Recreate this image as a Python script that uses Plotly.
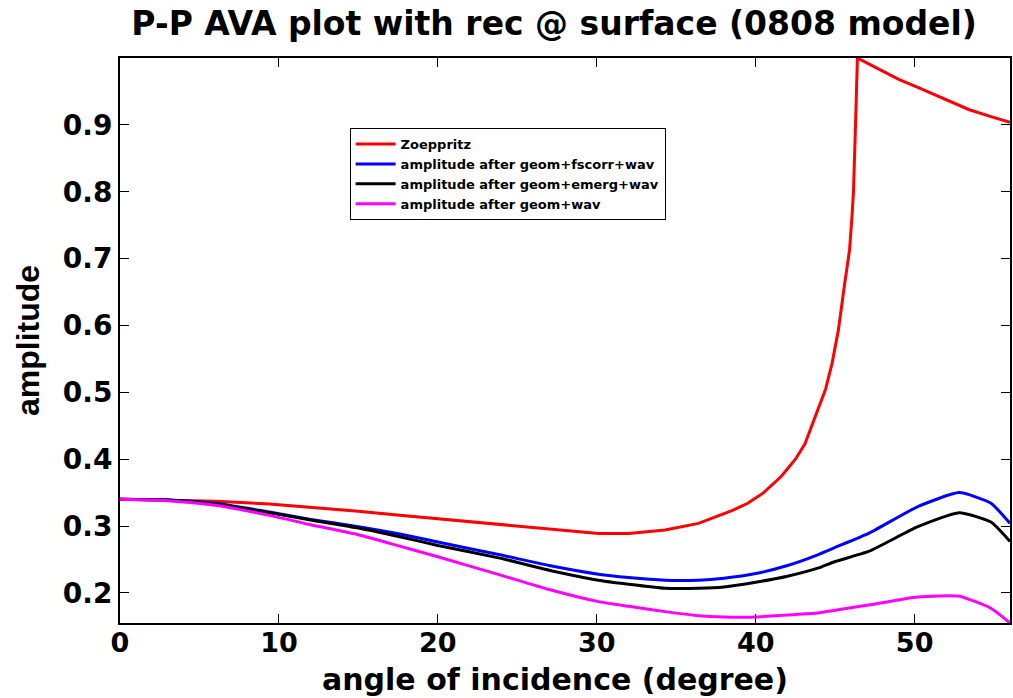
import plotly.graph_objects as go

# ---- data ----
red_x = [0, 3, 6, 9.4, 12, 15, 17.6, 20, 23.9, 27, 30.1, 32, 34.3, 36.4, 37.3, 38.5, 39.5,
         40.5, 41.6, 42.5, 43.1, 43.9, 44.4, 44.8, 45.2, 45.6, 45.9, 46.05, 46.15, 46.25,
         46.35, 46.4, 47.2, 48, 49, 50.2, 51.8, 53.4, 54.7, 56]
red_y = [0.340, 0.339, 0.337, 0.333, 0.328, 0.322, 0.316, 0.311, 0.303, 0.296, 0.289, 0.289,
         0.294, 0.304, 0.312, 0.323, 0.334, 0.350, 0.374, 0.400, 0.423, 0.473, 0.505, 0.543,
         0.593, 0.663, 0.712, 0.760, 0.800, 0.876, 0.940, 1.000, 0.990, 0.980, 0.968, 0.956,
         0.939, 0.923, 0.913, 0.904]

ang = [0, 3, 6, 9.4, 12, 15, 17.6, 20, 23.9, 27, 30.1, 32, 34.3, 36.4, 38, 40, 42, 43.9, 45,
       47.1, 50.2, 52.8, 54.8, 56]
blue_y = [0.340, 0.339, 0.334, 0.321, 0.310, 0.299, 0.288, 0.276, 0.257, 0.241, 0.228, 0.223,
          0.219, 0.219, 0.222, 0.229, 0.241, 0.257, 0.268, 0.289, 0.329, 0.350, 0.334, 0.304]
black_y = [0.340, 0.339, 0.333, 0.320, 0.309, 0.297, 0.284, 0.271, 0.252, 0.234, 0.219, 0.213,
           0.207, 0.207, 0.209, 0.216, 0.225, 0.237, 0.247, 0.262, 0.299, 0.320, 0.306, 0.277]
mag_y = [0.340, 0.338, 0.331, 0.316, 0.302, 0.287, 0.270, 0.254, 0.227, 0.205, 0.187, 0.180,
         0.172, 0.166, 0.164, 0.164, 0.167, 0.170, 0.174, 0.182, 0.194, 0.195, 0.177, 0.155]

names = ["Zoeppritz", "amplitude after geom+fscorr+wav",
         "amplitude after geom+emerg+wav", "amplitude after geom+wav"]
colors = ["#ff0000", "#0000ff", "#000000", "#ff00ff"]

x_ticks = [0, 10, 20, 30, 40, 50]
y_ticks = [0.2, 0.3, 0.4, 0.5, 0.6, 0.7, 0.8, 0.9]

WIDE = "DejaVu Sans"
NARROW = "Liberation Sans"

fig = go.Figure()
fig.add_trace(go.Scatter(x=red_x, y=red_y, mode="lines", name=names[0],
                         line=dict(color=colors[0], width=3)))
for yv, nm, c in zip([blue_y, black_y, mag_y], names[1:], colors[1:]):
    fig.add_trace(go.Scatter(x=ang, y=yv, mode="lines", name=nm,
                             line=dict(color=c, width=3, shape="spline", smoothing=0.5)))

axis_common = dict(showline=True, linecolor="black", linewidth=2, mirror="ticks",
                   ticks="inside", ticklen=9, tickwidth=1, tickcolor="black",
                   showgrid=False, zeroline=False)

fig.update_layout(
    width=1013, height=698,
    margin=dict(l=120, r=1, t=58, b=75),
    paper_bgcolor="white", plot_bgcolor="white",
    title=dict(text="P-P AVA plot with rec @ surface (0808 model)",
               font=dict(family=WIDE, size=33, color="black", weight="bold"),
               x=0.547, xanchor="center", y=0.967, yanchor="middle"),
    xaxis=dict(range=[0, 56], tickvals=x_ticks, ticktext=[str(v) for v in x_ticks],
               ticklabelstandoff=-5,
               tickfont=dict(family=WIDE, size=27, color="black", weight="bold"),
               **axis_common),
    yaxis=dict(range=[0.155, 1.0], tickvals=y_ticks, ticktext=[f"{v:.1f}" for v in y_ticks],
               tickfont=dict(family=WIDE, size=28, color="black", weight="bold"),
               title=dict(text="amplitude", standoff=14,
                          font=dict(family=NARROW, size=32, color="black", weight="bold")),
               **axis_common),
    legend=dict(x=0.258, y=0.876, xanchor="left", yanchor="top",
                bgcolor="white", bordercolor="black", borderwidth=1,
                font=dict(family=WIDE, size=13, color="black", weight="bold"),
                tracegroupgap=0, itemwidth=40),
    showlegend=True,
    annotations=[dict(text="angle of incidence (degree)", xref="paper", yref="paper",
                      x=0.489, y=-0.1345, xanchor="center", yanchor="bottom",
                      showarrow=False,
                      font=dict(family=WIDE, size=30, color="black", weight="bold"))],
)

fig.write_html("out.html")
